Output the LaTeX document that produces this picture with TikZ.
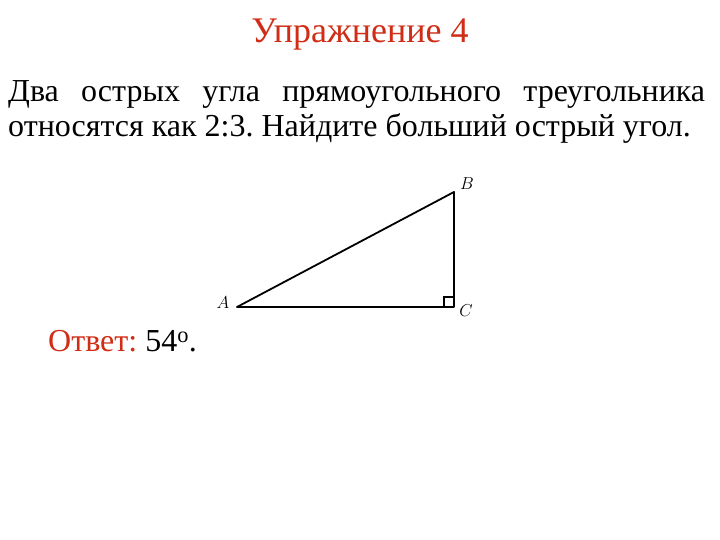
\documentclass[tikz,border=0pt]{standalone}
\usepackage{fontspec}
\setmainfont{Liberation Serif}
\frenchspacing
\usetikzlibrary{positioning}
\definecolor{titlered}{RGB}{208,44,22}
\tikzset{
  side/.style={line width=1.8pt},
  vlabel/.style={inner sep=0pt,font=\fontsize{16}{16}\selectfont},
  bodytext/.style={inner sep=0pt,anchor=base west,font=\fontsize{32}{38}\selectfont}
}
\begin{document}
\begin{tikzpicture}[x=1pt,y=1pt]
  \useasboundingbox[fill=white] (0,0) rectangle (720,540);
   %%%%%%%%%%%%%%%%% texts %%%%%%%%%%%%%%%%%%%
\node[inner sep=0pt,anchor=base,text=titlered,font=\fontsize{36}{36}\selectfont]
  (title) at (360,497) {Упражнение 4};
\node[bodytext] (line1) at (8,438)
  {\makebox[697pt][s]{Два острых угла прямоугольного треугольника}};
\node[bodytext] (line2) at (8,403) {относятся как 2:3. Найдите больший острый угол.};
\node[bodytext] (answer) at (48,188) {\textcolor{titlered}{Ответ:} 54\textsuperscript{o}.};
   %%%%%%%%%%%%%%%%% triangle %%%%%%%%%%%%%%%%%%%
\coordinate (A) at (237,233);
\coordinate (B) at (454,348);
\coordinate (C) at (454,233);
\draw[side,line join=round] (A) -- (B) -- (C) -- cycle;
\draw[line width=1.2pt] ([xshift=-10pt]C) |- ([yshift=10pt]C);
% vertex labels
\foreach \v/\pos in {A/{(223,237)},B/{(467,356)},C/{(466,229)}}
  {\node[vlabel] (lab\v) at \pos {$\v$};}
\end{tikzpicture}
\end{document}
